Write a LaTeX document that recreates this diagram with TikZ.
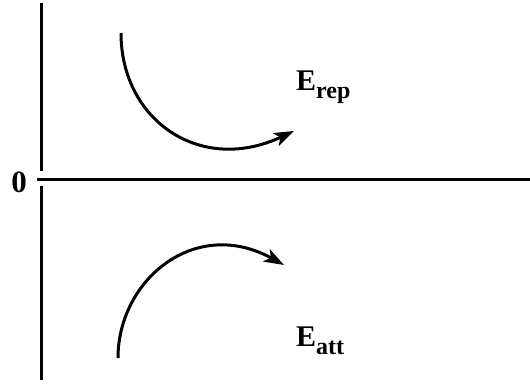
\documentclass[tikz,border=0pt]{standalone}
\usepackage{fontspec}
\setmainfont{Liberation Serif}
\usetikzlibrary{arrows.meta}
\begin{document}
\begin{tikzpicture}[x=1pt,y=-1pt,
  axis/.style={line width=3pt},
  curvearrow/.style={line width=3pt,-{Stealth[length=20pt,width=14pt,inset=5pt]}},
  lbl/.style={inner sep=0pt,anchor=base west,font=\bfseries}]
\useasboundingbox (0,0) rectangle (530,383);
% axes
\coordinate (ytop) at (41,3);
\coordinate (ygapA) at (41,171);
\coordinate (ygapB) at (41,186);
\coordinate (ybot) at (41,380);
\coordinate (xl) at (37,179);
\coordinate (xr) at (530,179);
\draw[axis] (ytop) -- (ygapA);
\draw[axis] (ygapB) -- (ybot);
\draw[axis] (xl) -- (xr);
\node[inner sep=0pt,anchor=base,font=\bfseries\fontsize{31}{33}\selectfont] (zero) at (19,192) {0};
% repulsive arrow
\coordinate (rs) at (121,33);
\coordinate (re) at (294,131);
\draw[curvearrow] (rs) .. controls (121,120) and (200,175) .. (re);
% attractive arrow
\coordinate (as) at (118,358);
\coordinate (ae) at (284,265);
\draw[curvearrow] (as) .. controls (118,280) and (195,216) .. (ae);
% labels
\node[lbl] (erep) at (296,90) {\fontsize{30}{32}\selectfont E\raisebox{-8pt}{\fontsize{24}{26}\selectfont rep}};
\node[lbl] (eatt) at (296,346) {\fontsize{30}{32}\selectfont E\raisebox{-8pt}{\fontsize{24}{26}\selectfont att}};
\end{tikzpicture}
\end{document}
